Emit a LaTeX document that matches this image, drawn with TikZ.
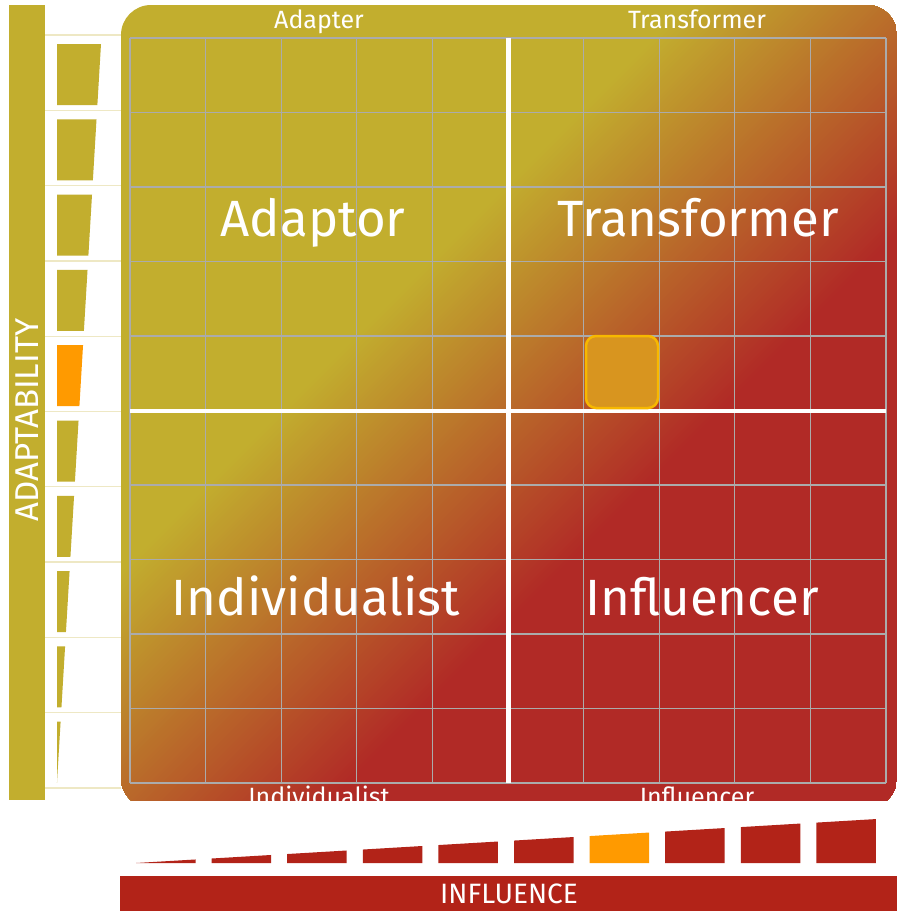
\documentclass[tikz,border=0pt]{standalone}
\usepackage{fontspec}
\setmainfont{Fira Sans}
\definecolor{olv}{HTML}{C2AE2E}
\definecolor{pred}{HTML}{B12A26}
\definecolor{bred}{HTML}{B22318}
\definecolor{hor}{HTML}{FF9A00}
\definecolor{gridc}{HTML}{ABABAB}
\definecolor{cellline}{HTML}{EEE8C4}
\definecolor{sqborder}{HTML}{F7B800}
\definecolor{sqfill}{HTML}{D8951F}
\tikzset{
  lbl/.style={text=white, inner sep=0pt, anchor=base},
  biglbl/.style={lbl, font=\fontsize{51}{58}\selectfont},
  smalllbl/.style={lbl, font=\fontsize{25}{30}\selectfont},
  gridline/.style={draw=gridc, line width=1.2pt},
  divline/.style={draw=white, line width=4.5pt},
  cellsep/.style={draw=cellline, line width=1.3pt}
}
\begin{document}
\begin{tikzpicture}[x=1pt,y=-1pt]
\useasboundingbox (0,0) rectangle (897,911);
\fill[white] (0,0) rectangle (897,911);
% left adaptability bar
\fill[olv] (9,5) rectangle (45,800);
\node[lbl, rotate=90, font=\fontsize{33}{36}\selectfont] (adapt) at (38,420) {ADAPTABILITY};
% left stack
\foreach \k/\c in {0/olv,1/olv,2/olv,3/olv,4/hor,5/olv,6/olv,7/olv,8/olv,9/olv} {
  \pgfmathsetmacro\ta{35+75.3*\k+9}
  \pgfmathsetmacro\tb{35+75.3*\k+70}
  \pgfmathsetmacro\xa{101-0.05962*(\ta-44)}
  \pgfmathsetmacro\xb{101-0.05962*(\tb-44)}
  \fill[\c] (57,\ta) -- (\xa,\ta) -- (\xb,\tb) -- (57,\tb) -- cycle;
}
\foreach \k in {0,...,10} {
  \draw[cellsep] (45,{35+75.3*\k}) -- (121,{35+75.3*\k});
}
% bottom stack
\foreach \k/\c in {0/bred,1/bred,2/bred,3/bred,4/bred,5/bred,6/hor,7/bred,8/bred,9/bred} {
  \pgfmathsetmacro\la{136+75.6*\k}
  \pgfmathsetmacro\lb{\la+59.5}
  \pgfmathsetmacro\ya{863-0.05938*(\la-136)}
  \pgfmathsetmacro\yb{863-0.05938*(\lb-136)}
  \fill[\c] (\la,863) -- (\la,\ya) -- (\lb,\yb) -- (\lb,863) -- cycle;
}
% influence bar
\fill[bred] (120,876) rectangle (897,911);
\node[lbl, font=\fontsize{28}{32}\selectfont] (infl) at (509,903) {INFLUENCE};
% main panel
\begin{scope}
  \clip (121,5) rectangle (897,800);
  \clip[rounded corners=30pt] (121,5) rectangle (897,808);
  \fill[olv] (121,5) rectangle (897,808);
  \foreach \i in {0,...,100} {
    \pgfmathsetmacro\s{690+4.4*\i}
    \fill[pred!\i!olv] (\s+300,-300) -- (2000,-300) -- (2000,2000) -- (\s-2000,2000) -- cycle;
  }
  \foreach \i in {0,...,10} {
    \draw[gridline] ({130+75.6*\i},38) -- ({130+75.6*\i},783);
    \draw[gridline] (130,{38+74.5*\i}) -- (886,{38+74.5*\i});
  }
  \draw[divline] (508.5,38) -- (508.5,783);
  \draw[divline, line width=4pt] (130,411) -- (886,411);
  \draw[rounded corners=10pt, fill=sqfill, draw=sqborder, line width=2.5pt] (586,336) rectangle (658,408);
  \node[biglbl] (adaptor) at (313,236) {Adaptor};
  \node[biglbl] (transformer) at (698,236) {Transformer};
  \node[biglbl] (individualist) at (316,615) {Individualist};
  \node[biglbl] (influencer) at (702,615) {Influencer};
  \node[smalllbl] (adaptertop) at (319,28) {Adapter};
  \node[smalllbl] (transtop) at (697,28) {Transformer};
  \node[smalllbl] (indbot) at (319,805) {Individualist};
  \node[smalllbl] (infbot) at (697,805) {Influencer};
\end{scope}
\end{tikzpicture}
\end{document}
